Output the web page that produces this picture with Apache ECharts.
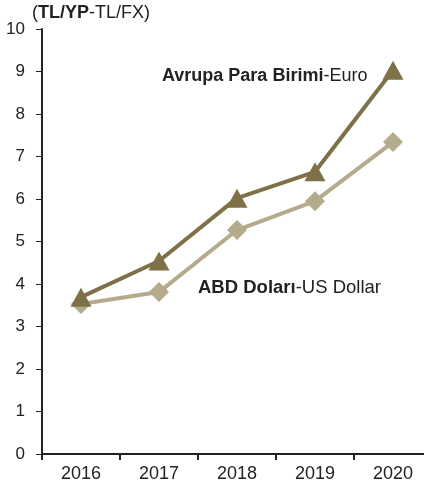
<!DOCTYPE html>
<html>
<head>
<meta charset="utf-8">
<script src="https://cdn.jsdelivr.net/npm/echarts@6/dist/echarts.min.js"></script>
<style>
  html, body { margin: 0; padding: 0; background: #fff; }
  #chart { width: 424px; height: 484px; }
</style>
</head>
<body>
<div id="chart"></div>
<script>
// yillar ve kurlar
var years = ["2016", "2017", "2018", "2019", "2020"];
var euro = [3.69, 4.54, 6.02, 6.64, 9.03];
var usd = [3.53, 3.81, 5.27, 5.95, 7.34];

var chart = echarts.init(document.getElementById("chart"));
var font = "Liberation Sans, Arial, sans-serif";

var option = {
  animation: false,
  grid: { left: 42, width: 390, top: 29, bottom: 30, outerBoundsMode: "none" },
  xAxis: {
    type: "category",
    data: years,
    axisLine: { lineStyle: { color: "#222", width: 2 } },
    axisTick: { show: true, alignWithLabel: false, length: 6, lineStyle: { color: "#222", width: 2 } },
    axisLabel: { color: "#222", fontSize: 18, fontFamily: font, margin: 11 }
  },
  yAxis: {
    type: "value",
    min: 0,
    max: 10,
    interval: 1,
    splitLine: { show: false },
    axisLine: { show: true, lineStyle: { color: "#222", width: 2 } },
    axisTick: { show: true, length: 6, lineStyle: { color: "#222", width: 1 } },
    axisLabel: { color: "#222", fontSize: 17, fontFamily: font, margin: 17 }
  },
  series: [
    {
      name: "USD",
      type: "line",
      data: usd,
      symbol: "diamond",
      symbolSize: 20,
      lineStyle: { color: "#b6aa8c", width: 4 },
      itemStyle: { color: "#b6aa8c" }
    },
    {
      name: "EUR",
      type: "line",
      data: euro,
      symbol: "triangle",
      symbolSize: [21, 19],
      lineStyle: { color: "#7e7148", width: 4 },
      itemStyle: { color: "#7e7148" }
    }
  ],
  graphic: [
    {
      type: "text",
      x: 32,
      y: 13,
      style: {
        text: "({b|TL/YP}-TL/FX)",
        fontSize: 18,
        fontFamily: font,
        fill: "#222",
        verticalAlign: "middle",
        rich: { b: { fontWeight: "bold", fontSize: 18, fontFamily: font, fill: "#222" } }
      }
    },
    {
      type: "text",
      x: 162,
      y: 76,
      style: {
        text: "{b|Avrupa Para Birimi}-Euro",
        fontSize: 18,
        fontFamily: font,
        fill: "#222",
        verticalAlign: "middle",
        rich: { b: { fontWeight: "bold", fontSize: 18, fontFamily: font, fill: "#222" } }
      }
    },
    {
      type: "text",
      x: 198,
      y: 288,
      style: {
        text: "{b|ABD Doları}-US Dollar",
        fontSize: 18.5,
        fontFamily: font,
        fill: "#222",
        verticalAlign: "middle",
        rich: { b: { fontWeight: "bold", fontSize: 18.5, fontFamily: font, fill: "#222" } }
      }
    }
  ]
};

chart.setOption(option);
</script>
</body>
</html>
